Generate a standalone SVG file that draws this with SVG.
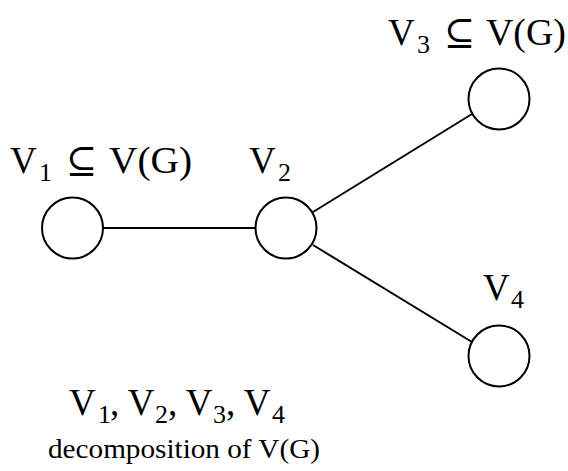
<svg xmlns="http://www.w3.org/2000/svg" width="568" height="471" viewBox="0 0 568 471">
<style>
.n{fill:#fff;stroke:#000;stroke-width:2}
.e{stroke:#000;stroke-width:2;fill:none}
.t{font-family:"Liberation Serif","DejaVu Serif",serif;font-size:37px;fill:#000}
.s{font-size:26px}
.d{font-family:"Liberation Serif","DejaVu Serif",serif;font-size:27px;fill:#000}
</style>
<rect width="568" height="471" fill="#fff"/>
<g id="connectors">
<line class="e" x1="103" y1="228" x2="255" y2="228"/>
<line class="e" x1="313" y1="212" x2="472" y2="114"/>
<line class="e" x1="313" y1="245" x2="472" y2="342"/>
</g>
<g id="V1">
<circle class="n" cx="72.5" cy="228" r="30.5"/>
<text class="t" y="173"><tspan x="10">V</tspan><tspan class="s" x="39" y="181">1</tspan><tspan x="66" y="173">⊆</tspan></text>
<text class="t" x="109" y="173" textLength="83" lengthAdjust="spacingAndGlyphs">V(G)</text>
</g>
<g id="V2">
<circle class="n" cx="286" cy="228" r="30.5"/>
<text class="t" y="173"><tspan x="249">V</tspan><tspan class="s" x="278" y="181">2</tspan></text>
</g>
<g id="V3">
<circle class="n" cx="499" cy="99" r="30.5"/>
<text class="t" y="45"><tspan x="388">V</tspan><tspan class="s" x="417" y="53">3</tspan><tspan x="444" y="45">⊆</tspan></text>
<text class="t" x="486" y="45" textLength="80" lengthAdjust="spacingAndGlyphs">V(G)</text>
</g>
<g id="V4">
<circle class="n" cx="499" cy="356" r="30.5"/>
<text class="t" y="300"><tspan x="483">V</tspan><tspan class="s" x="511" y="308">4</tspan></text>
</g>
<g id="caption">
<text class="t" y="415"><tspan x="69">V</tspan><tspan class="s" x="98" y="423">1</tspan><tspan x="110" y="415">, V</tspan><tspan class="s" x="155" y="423">2</tspan><tspan x="168" y="415">, V</tspan><tspan class="s" x="213" y="423">3</tspan><tspan x="226" y="415">, V</tspan><tspan class="s" x="272" y="423">4</tspan></text>
<text class="d" x="48" y="458" textLength="272" lengthAdjust="spacingAndGlyphs">decomposition of V(G)</text>
</g>
</svg>
